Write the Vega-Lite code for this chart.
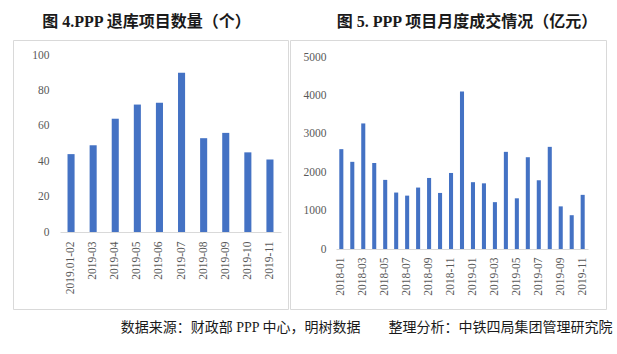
{
  "$schema": "https://vega.github.io/schema/vega-lite/v6.json",
  "padding": {"left": 12, "top": 13, "right": 10, "bottom": 10},
  "spacing": 0,
  "title": {
    "text": "数据来源：财政部 PPP 中心，明树数据　　整理分析：中铁四局集团管理研究院",
    "orient": "bottom",
    "anchor": "end",
    "font": "Liberation Serif, Noto Sans CJK SC",
    "fontSize": 14,
    "fontWeight": "normal",
    "color": "#1a1a1a",
    "offset": 11,
    "dx": 6
  },
  "config": {
    "view": {"stroke": "#d9d9d9", "strokeWidth": 1},
    "axis": {
      "labelFont": "Liberation Serif",
      "labelFontSize": 11.5,
      "labelColor": "#595959",
      "title": null,
      "grid": false,
      "ticks": false
    },
    "title": {
      "font": "Liberation Serif, Noto Sans CJK SC",
      "fontSize": 16,
      "fontWeight": "bold",
      "color": "#1a1a1a",
      "offset": 10
    }
  },
  "hconcat": [
    {
      "title": {"text": "图 4.PPP 退库项目数量（个）", "dx": -4},
      "width": 275,
      "height": 269,
      "data": {
        "values": [
          {"month": "2019.01-02", "count": 44},
          {"month": "2019-03", "count": 49},
          {"month": "2019-04", "count": 64},
          {"month": "2019-05", "count": 72},
          {"month": "2019-06", "count": 73},
          {"month": "2019-07", "count": 90},
          {"month": "2019-08", "count": 53},
          {"month": "2019-09", "count": 56},
          {"month": "2019-10", "count": 45},
          {"month": "2019-11", "count": 41}
        ]
      },
      "mark": {"type": "bar", "color": "#4472C4"},
      "encoding": {
        "x": {
          "field": "month",
          "type": "ordinal",
          "sort": null,
          "scale": {"range": [47, 268], "paddingInner": 0.68, "paddingOuter": 0.34},
          "axis": {
            "labelAngle": 270,
            "offset": -77,
            "domainColor": "#d9d9d9",
            "labelPadding": 9,
            "labelFont": "Liberation Serif, Times New Roman, serif"
          }
        },
        "y": {
          "field": "count",
          "type": "quantitative",
          "scale": {"domain": [0, 100], "nice": false, "range": [192, 15]},
          "axis": {
            "values": [0, 20, 40, 60, 80, 100],
            "format": "d",
            "domain": false,
            "offset": -40,
            "labelPadding": 4,
            "labelFont": "Liberation Serif, Times New Roman, serif"
          }
        }
      }
    },
    {
      "title": {"text": "图 5. PPP 项目月度成交情况（亿元）", "dx": 19},
      "width": 316,
      "height": 269,
      "data": {
        "values": [
          {"month": "2018-01", "amount": 2600},
          {"month": "2018-02", "amount": 2270},
          {"month": "2018-03", "amount": 3270},
          {"month": "2018-04", "amount": 2240},
          {"month": "2018-05", "amount": 1800},
          {"month": "2018-06", "amount": 1470},
          {"month": "2018-07", "amount": 1390},
          {"month": "2018-08", "amount": 1600},
          {"month": "2018-09", "amount": 1850},
          {"month": "2018-10", "amount": 1460},
          {"month": "2018-11", "amount": 1980},
          {"month": "2018-12", "amount": 4100},
          {"month": "2019-01", "amount": 1740},
          {"month": "2019-02", "amount": 1710},
          {"month": "2019-03", "amount": 1220},
          {"month": "2019-04", "amount": 2530},
          {"month": "2019-05", "amount": 1320},
          {"month": "2019-06", "amount": 2390},
          {"month": "2019-07", "amount": 1790},
          {"month": "2019-08", "amount": 2660},
          {"month": "2019-09", "amount": 1110},
          {"month": "2019-10", "amount": 880},
          {"month": "2019-11", "amount": 1410}
        ]
      },
      "mark": {"type": "bar", "color": "#4472C4"},
      "encoding": {
        "x": {
          "field": "month",
          "type": "ordinal",
          "sort": null,
          "scale": {"range": [46, 298], "paddingInner": 0.63, "paddingOuter": 0.3},
          "axis": {
            "values": ["2018-01", "2018-03", "2018-05", "2018-07", "2018-09", "2018-11", "2019-01", "2019-03", "2019-05", "2019-07", "2019-09", "2019-11"],
            "labelAngle": 270,
            "offset": -60,
            "domainColor": "#d9d9d9",
            "labelPadding": 8,
            "labelFont": "Liberation Serif, Times New Roman, serif"
          }
        },
        "y": {
          "field": "amount",
          "type": "quantitative",
          "scale": {"domain": [0, 5000], "nice": false, "range": [209, 17]},
          "axis": {
            "values": [0, 1000, 2000, 3000, 4000, 5000],
            "format": "d",
            "domain": false,
            "offset": -40,
            "labelPadding": 4,
            "labelFont": "Liberation Serif, Times New Roman, serif"
          }
        }
      }
    }
  ]
}
